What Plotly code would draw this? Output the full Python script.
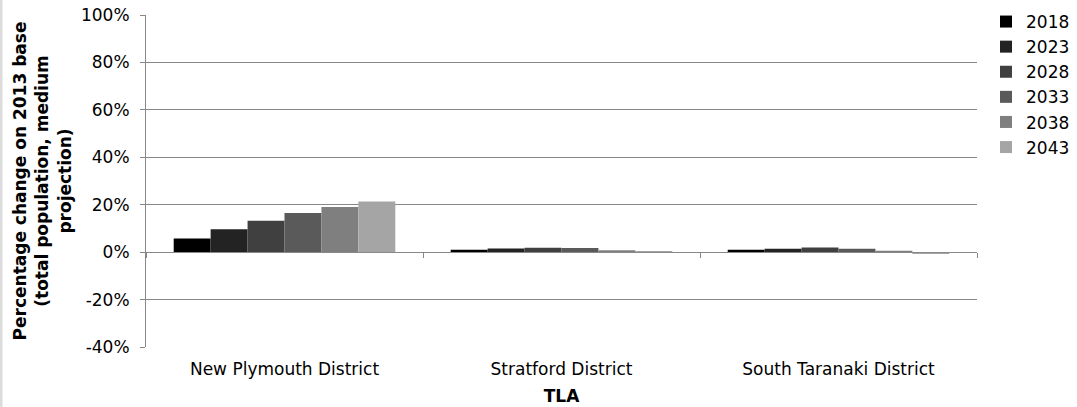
import plotly.graph_objects as go

categories = ["New Plymouth District", "Stratford District", "South Taranaki District"]
years = ["2018", "2023", "2028", "2033", "2038", "2043"]
values = {
    "2018": [0.058, 0.010, 0.010],
    "2023": [0.097, 0.015, 0.014],
    "2028": [0.132, 0.018, 0.020],
    "2033": [0.165, 0.017, 0.014],
    "2038": [0.190, 0.008, 0.006],
    "2043": [0.214, 0.001, -0.007],
}
colors = ["#000000", "#232323", "#404040", "#5a5a5a", "#7f7f7f", "#a5a5a5"]
y_ticks = [-0.4, -0.2, 0.0, 0.2, 0.4, 0.6, 0.8, 1.0]
y_tick_labels = ["-40%", "-20%", "0%", "20%", "40%", "60%", "80%", "100%"]

FONT = "Verdana, DejaVu Sans, sans-serif"
FS = 17
GRID = "#888888"

W, H = 1077, 407
ML, MR, MT, MB = 146, 100, 15, 60
PW, PH = W - ML - MR, H - MT - MB

fig = go.Figure()
for yr, col in zip(years, colors):
    fig.add_trace(go.Bar(
        x=categories, y=values[yr], name=yr,
        marker=dict(color=col, line=dict(width=0)),
    ))

# invisible trace carrying the zero-crossing category axis (boundary ticks)
fig.add_trace(go.Scatter(
    x=categories, y=[0, 0, 0], xaxis="x2", yaxis="y",
    mode="markers", marker=dict(opacity=0), showlegend=False, hoverinfo="skip",
))

fig.update_layout(
    width=W, height=H,
    margin=dict(l=ML, r=MR, t=MT, b=MB, autoexpand=False),
    paper_bgcolor="white", plot_bgcolor="white",
    font=dict(family=FONT, size=FS, color="#000000"),
    barmode="group", bargap=0.2, bargroupgap=0,
    showlegend=True,
    legend=dict(
        x=(986 - ML) / PW, y=1 + 11 / PH, xanchor="left", yanchor="top",
        font=dict(size=FS), bgcolor="rgba(0,0,0,0)",
        itemwidth=30, tracegroupgap=0, borderwidth=0,
    ),
    xaxis=dict(
        type="category", categoryorder="array", categoryarray=categories,
        range=[-0.5, 2.5],
        showline=False, ticks="", showgrid=False, zeroline=False,
        tickfont=dict(size=FS), ticklabelstandoff=10, automargin=False,
        title=dict(text="<b>TLA</b>", font=dict(size=FS), standoff=12),
    ),
    xaxis2=dict(
        type="category", categoryorder="array", categoryarray=categories,
        range=[-0.5, 2.5],
        overlaying="x", anchor="free", position=0.4 / 1.4,
        showline=True, linecolor=GRID, linewidth=1,
        ticks="outside", tickson="boundaries", ticklen=5, tickcolor=GRID, tickwidth=1,
        showticklabels=False, showgrid=False, zeroline=False, automargin=False,
    ),
    yaxis=dict(
        range=[-0.4, 1.0], tickvals=y_ticks, ticktext=y_tick_labels,
        showline=True, linecolor=GRID, linewidth=1,
        ticks="outside", ticklen=5, tickcolor=GRID, tickwidth=1,
        showgrid=True, gridcolor=GRID, gridwidth=1,
        zeroline=False, tickfont=dict(size=FS), automargin=False,
        ticklabelstandoff=7,
        title=dict(
            text="<b>Percentage change on 2013 base<br>(total population, medium<br>projection)</b>",
            font=dict(size=FS), standoff=5,
        ),
    ),
    shapes=[
        dict(type="rect", xref="paper", yref="paper",
             x0=-ML / PW, x1=-(ML - 2.5) / PW, y0=-MB / PH, y1=1 + MT / PH,
             fillcolor="#dcdcdc", line=dict(width=0), layer="below"),
    ],
)

fig.write_html(
    "out.html",
    config={"displayModeBar": False},
    post_script="document.body.style.margin='0';",
)
